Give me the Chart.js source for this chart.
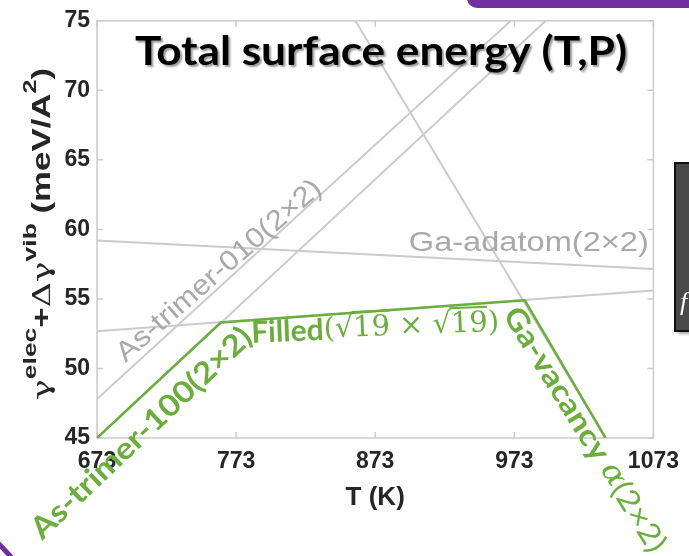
<!DOCTYPE html>
<html>
<head>
<meta charset="utf-8">
<script src="https://cdn.jsdelivr.net/npm/chart.js@4"></script>
<style>
  html, body { margin: 0; padding: 0; background: #fff; }
  canvas { display: block; }
</style>
</head>
<body>
<canvas id="grafico" width="689" height="556"></canvas>
<script>
// ticks
const ticksT = [673, 773, 873, 973, 1073];
const ticksE = [45, 50, 55, 60, 65, 70, 75];

// gray lines (end points)
const asTrimer010T = [673, 970.5];
const asTrimer010E = [47.8, 75];
const asTrimer100T = [673, 995.6];
const asTrimer100E = [45, 75];
const gaAdatomT = [673, 1073];
const gaAdatomE = [59.2, 57.15];
const filledT = [673, 1073];
const filledE = [52.67, 55.6];
const gaVacancyT = [858.7, 1038.6];
const gaVacancyE = [75, 45];

// lowest energy path (green)
const minT = [673, 762, 980.5, 1038.6];
const minE = [45, 53.3, 54.9, 45];

const GRIS = '#cbcbcb';
const VERDE = '#6aae3c';
const TEXTO_GRIS = '#a9a9a9';

function puntos(ts, es) {
    return ts.map((t, i) => ({ x: t, y: es[i] }));
}

function linea(ts, es, color, ancho, orden) {
    return {
        data: puntos(ts, es),
        borderColor: color,
        borderWidth: ancho,
        pointRadius: 0,
        showLine: true,
        fill: false,
        tension: 0,
        order: orden
    };
}

// draws a row of text pieces, centred on (cx, cy), rotated, stretched to "largo" px
function dibujarPiezas(ctx, piezas, cx, cy, ang, largo) {
    ctx.save();
    ctx.translate(cx, cy);
    ctx.rotate(ang * Math.PI / 180);
    let total = 0;
    piezas.forEach(p => {
        ctx.font = p.font;
        p.w = ctx.measureText(p.t).width;
        total += p.w;
    });
    if (largo) ctx.scale(largo / total, 1);
    ctx.textBaseline = 'middle';
    ctx.textAlign = 'left';
    let x = -total / 2;
    piezas.forEach(p => {
        ctx.font = p.font;
        ctx.fillStyle = p.color;
        ctx.fillText(p.t, x, p.dy || 0);
        if (p.over) ctx.fillRect(x - 1, (p.dy || 0) - p.over, p.w + 1, 2);
        x += p.w;
    });
    ctx.restore();
}

const verdeSans = 'bold 30px Lato';
const verdeMath = '29px "DejaVu Serif"';

// annotation labels: anchor in data units, angle in degrees, length in px
const etiquetas = [
    { T: 761, E: 57.0, ang: -41, largo: 262,
      piezas: [{ t: 'As-trimer-010(2\u00d72)', font: '28px "Liberation Sans"', color: TEXTO_GRIS }] },
    { T: 983.4, E: 58.97, ang: 0, largo: 240,
      piezas: [{ t: 'Ga-adatom(2\u00d72)', font: '28px "Liberation Sans"', color: TEXTO_GRIS }] },
    { T: 705, E: 45.35, ang: -43.5, largo: 292,
      piezas: [{ t: 'As-trimer-100(2\u00d72)', font: verdeSans, color: VERDE }] },
    { T: 873, E: 52.9, ang: -2.3, largo: 248,
      piezas: [
          { t: 'Filled', font: verdeSans, color: VERDE },
          { t: '(\u221a', font: verdeMath, color: VERDE },
          { t: '19', font: verdeMath, color: VERDE, over: 18 },
          { t: ' \u00d7 \u221a', font: verdeMath, color: VERDE },
          { t: '19', font: verdeMath, color: VERDE, over: 18 },
          { t: ')', font: verdeMath, color: VERDE }
      ] },
    { T: 1023.5, E: 45.6, ang: 58.3, largo: 282,
      piezas: [
          { t: 'Ga-vacancy ', font: verdeSans, color: VERDE },
          { t: '\u03b1', font: 'italic 30px "DejaVu Serif"', color: VERDE },
          { t: '(2\u00d72)', font: '30px Lato', color: VERDE }
      ] }
];

const tituloY = [
    { t: '\u03b3', font: '25px "DejaVu Serif"', color: '#262626' },
    { t: 'elec', font: 'bold 19px "Liberation Sans"', color: '#262626', dy: -12 },
    { t: '+', font: 'bold 25px "Liberation Sans"', color: '#262626' },
    { t: '\u0394\u03b3', font: '25px "DejaVu Serif"', color: '#262626' },
    { t: 'vib', font: 'bold 19px "Liberation Sans"', color: '#262626', dy: -12 },
    { t: ' (meV/A', font: 'bold 25px "Liberation Sans"', color: '#262626' },
    { t: '2', font: 'bold 18px "Liberation Sans"', color: '#262626', dy: -12 },
    { t: ')', font: 'bold 25px "Liberation Sans"', color: '#262626' }
];

const marco = {
    id: 'marco',
    beforeDraw(chart) {
        const ctx = chart.ctx;
        ctx.save();
        ctx.fillStyle = '#fff';
        ctx.fillRect(0, 0, chart.width, chart.height);
        ctx.restore();
    },
    beforeDatasetsDraw(chart) {
        const ctx = chart.ctx;
        const { left, right, top, bottom } = chart.chartArea;
        const xs = chart.scales.x, ys = chart.scales.y;
        ctx.save();
        ctx.strokeStyle = GRIS;
        ctx.lineWidth = 1.5;
        ctx.strokeRect(left, top, right - left, bottom - top);
        ctx.beginPath();
        ticksT.forEach(t => {
            const x = xs.getPixelForValue(t);
            ctx.moveTo(x, bottom); ctx.lineTo(x, bottom - 6);
            ctx.moveTo(x, top); ctx.lineTo(x, top + 6);
        });
        ticksE.forEach(e => {
            const y = ys.getPixelForValue(e);
            ctx.moveTo(left, y); ctx.lineTo(left + 6, y);
            ctx.moveTo(right, y); ctx.lineTo(right - 6, y);
        });
        ctx.stroke();
        ctx.restore();
    },
    afterDatasetsDraw(chart) {
        const ctx = chart.ctx;
        const xs = chart.scales.x, ys = chart.scales.y;
        etiquetas.forEach(e => {
            dibujarPiezas(ctx, e.piezas, xs.getPixelForValue(e.T), ys.getPixelForValue(e.E), e.ang, e.largo);
        });
        // y axis title with superscripts
        dibujarPiezas(ctx, tituloY, 43, 234, -90, 332);

        // slide title
        ctx.save();
        ctx.shadowColor = 'rgba(0,0,0,0.4)';
        ctx.shadowOffsetX = 2;
        ctx.shadowOffsetY = 2;
        ctx.shadowBlur = 2;
        dibujarPiezas(ctx, [{ t: 'Total surface energy (T,P)', font: 'bold 40px Lato', color: '#000' }], 381, 52, 0, 492);
        ctx.restore();

        // slide decorations
        ctx.save();
        ctx.fillStyle = '#7030a0';
        ctx.beginPath();
        ctx.roundRect(467, -20, 260, 28, 10);
        ctx.fill();
        ctx.strokeStyle = '#7030a0';
        ctx.lineWidth = 5;
        ctx.beginPath();
        ctx.moveTo(-2, 543);
        ctx.quadraticCurveTo(4, 549, 12, 558);
        ctx.stroke();
        ctx.shadowColor = 'rgba(0,0,0,0.35)';
        ctx.shadowOffsetX = 3;
        ctx.shadowOffsetY = 3;
        ctx.shadowBlur = 3;
        ctx.fillStyle = '#4a4a4a';
        ctx.fillRect(675, 163, 40, 168);
        ctx.shadowColor = 'transparent';
        ctx.strokeStyle = '#111';
        ctx.lineWidth = 2;
        ctx.strokeRect(675, 163, 40, 168);
        ctx.fillStyle = '#fff';
        ctx.font = 'italic 26px "Liberation Serif"';
        ctx.textBaseline = 'alphabetic';
        ctx.fillText('f', 680, 310);
        ctx.restore();
    }
};

const ctx = document.getElementById('grafico').getContext('2d');
new Chart(ctx, {
    type: 'scatter',
    data: {
        datasets: [
            linea(minT, minE, VERDE, 2.5, 0),
            linea(asTrimer010T, asTrimer010E, GRIS, 2, 1),
            linea(asTrimer100T, asTrimer100E, GRIS, 2, 1),
            linea(gaAdatomT, gaAdatomE, GRIS, 2, 1),
            linea(filledT, filledE, GRIS, 2, 1),
            linea(gaVacancyT, gaVacancyE, GRIS, 2, 1)
        ]
    },
    options: {
        responsive: false,
        animation: false,
        devicePixelRatio: 1,
        layout: { padding: { left: 0, top: 19, right: 32, bottom: 0 } },
        plugins: { legend: { display: false }, tooltip: { enabled: false } },
        scales: {
            x: {
                type: 'linear',
                min: 673,
                max: 1073,
                afterBuildTicks: s => { s.ticks = ticksT.map(v => ({ value: v })); },
                afterFit: s => { s.height = 118; },
                grid: { display: false, drawTicks: false },
                border: { display: false },
                ticks: {
                    padding: 10,
                    color: '#262626',
                    font: { family: 'Liberation Sans', size: 23, weight: 'bold' },
                    maxRotation: 0,
                    callback: v => String(v)
                },
                title: {
                    display: true,
                    text: 'T (K)',
                    color: '#262626',
                    font: { family: 'Liberation Sans', size: 26, weight: 'bold' },
                    padding: { top: 0, bottom: 43 }
                }
            },
            y: {
                min: 45,
                max: 75,
                afterBuildTicks: s => { s.ticks = ticksE.map(v => ({ value: v })); },
                afterFit: s => { s.width = 97; },
                grid: { display: false, drawTicks: false },
                border: { display: false },
                ticks: {
                    padding: 7,
                    color: '#262626',
                    font: { family: 'Liberation Sans', size: 23, weight: 'bold' },
                    callback: v => String(v)
                }
            }
        }
    },
    plugins: [marco]
});
</script>
</body>
</html>
